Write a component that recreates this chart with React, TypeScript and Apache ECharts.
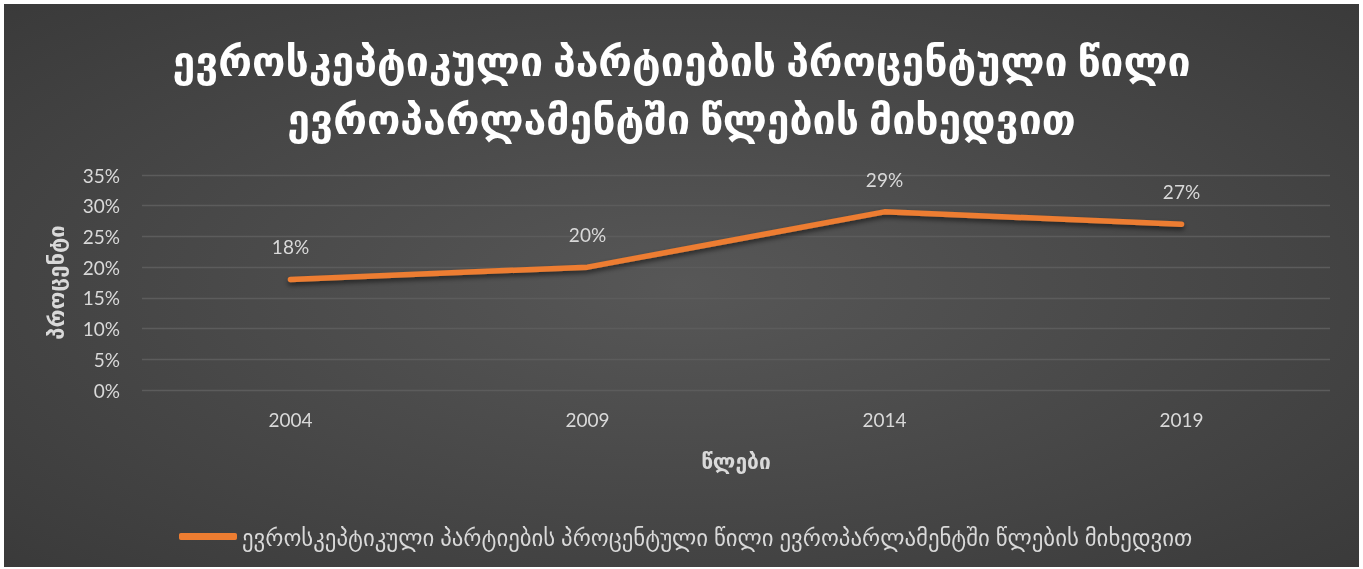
import React, { useEffect, useRef } from "react";
import * as echarts from "echarts";

const years = ["2004", "2009", "2014", "2019"];
const shares = [18, 20, 29, 27];
const yTicks = [0, 5, 10, 15, 20, 25, 30, 35];
const titleLines = [
  "ევროსკეპტიკული პარტიების პროცენტული წილი",
  "ევროპარლამენტში წლების მიხედვით",
];
const seriesName =
  "ევროსკეპტიკული პარტიების პროცენტული წილი ევროპარლამენტში წლების მიხედვით";
const yName = "პროცენტი";
const xName = "წლები";

const FONT = "Lato, 'DejaVu Sans', sans-serif";
const TXT = "#d9d9d9";

export default function App() {
  const ref = useRef<HTMLDivElement>(null);
  useEffect(() => {
    if (!ref.current) return;
    const chart = echarts.init(ref.current, undefined, { renderer: "svg" });
    chart.setOption({
      animation: false,
      backgroundColor: {
        type: "radial",
        x: 0.5,
        y: 0.5,
        r: 1.35,
        colorStops: [
          { offset: 0, color: "#575757" },
          { offset: 1, color: "#202020" },
        ],
      },
      title: {
        text: titleLines.join("\n"),
        left: "center",
        top: 22,
        textStyle: {
          color: "#ffffff",
          fontFamily: FONT,
          fontSize: 41,
          fontWeight: "bold",
          lineHeight: 58,
        },
      },
      grid: { left: 138, right: 29, top: 171, bottom: 177 },
      legend: {
        left: 170,
        top: 516,
        icon: "roundRect",
        itemWidth: 58,
        itemHeight: 7,
        data: [seriesName],
        textStyle: { color: TXT, fontFamily: FONT, fontSize: 22.8 },
      },
      xAxis: {
        type: "category",
        data: years,
        boundaryGap: true,
        name: xName,
        nameLocation: "middle",
        nameGap: 60,
        nameTextStyle: {
          color: TXT,
          fontFamily: FONT,
          fontSize: 21,
          fontWeight: "bold",
        },
        axisLine: { show: false },
        axisTick: { show: false },
        axisLabel: { color: TXT, fontFamily: FONT, fontSize: 19, margin: 20 },
      },
      yAxis: {
        type: "value",
        min: 0,
        max: 35,
        interval: 5,
        name: yName,
        nameLocation: "middle",
        nameRotate: 90,
        nameGap: 76,
        nameTextStyle: {
          color: TXT,
          fontFamily: FONT,
          fontSize: 22,
          fontWeight: "bold",
        },
        axisLine: { show: false },
        axisTick: { show: false },
        splitLine: { lineStyle: { color: "#5c5c5c", width: 1.3 } },
        axisLabel: {
          color: TXT,
          fontFamily: FONT,
          fontSize: 19,
          margin: 22,
          formatter: (v: number) => (yTicks.includes(v) ? v + "%" : ""),
        },
      },
      series: [
        {
          name: seriesName,
          type: "line",
          data: shares,
          symbol: "circle",
          symbolSize: 2,
          showSymbol: true,
          lineStyle: {
            color: "#ED7D31",
            width: 5.5,
            cap: "round",
            join: "round",
            shadowColor: "rgba(0,0,0,0.55)",
            shadowBlur: 5,
            shadowOffsetY: 3,
          },
          itemStyle: { color: "#ED7D31" },
          label: {
            show: true,
            position: "top",
            distance: 22,
            color: TXT,
            fontFamily: FONT,
            fontSize: 19,
            formatter: (p: any) => p.value + "%",
          },
        },
      ],
    });
    return () => chart.dispose();
  }, []);
  return (
    <div
      ref={ref}
      style={{ position: "fixed", left: 4, top: 4, width: 1355, height: 563 }}
    />
  );
}
